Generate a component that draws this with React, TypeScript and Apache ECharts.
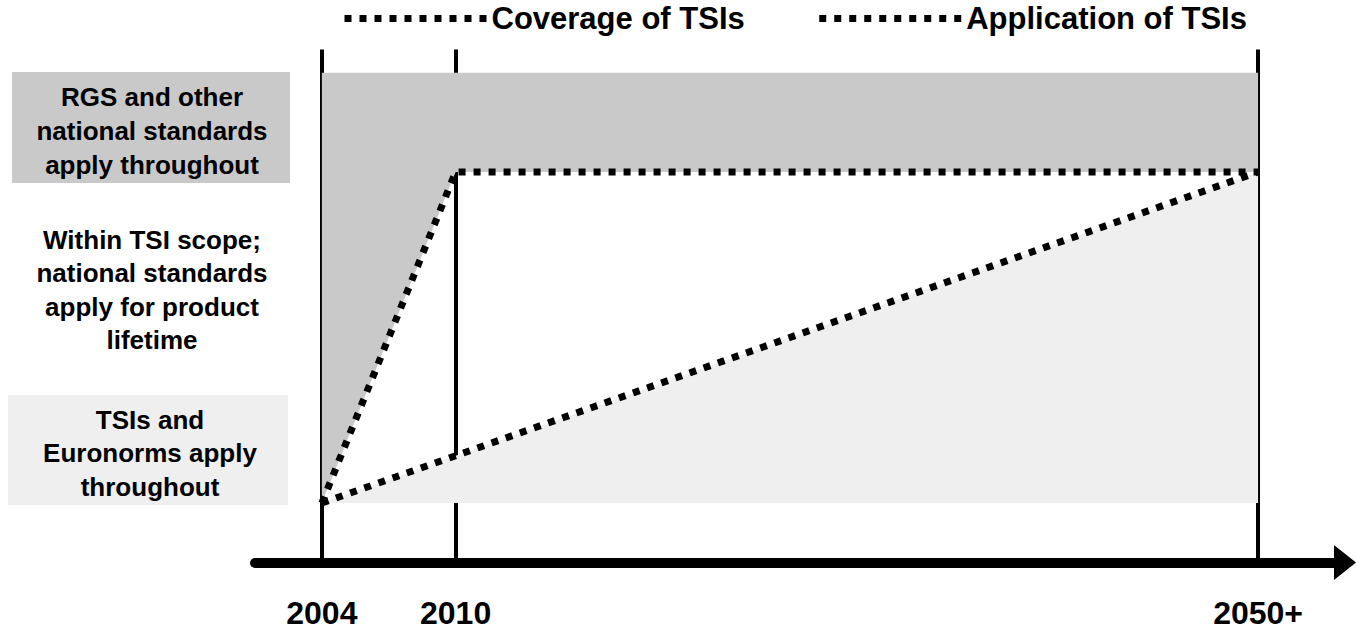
import React, { useEffect, useRef } from "react";
import * as echarts from "echarts";

// ---- data ----
const years = ["2004", "2010", "2050+"];
const yearPositions = [0, 1, 7];
const coverageLevels = [0, 1, 1];
const applicationPositions = [0, 7];
const applicationLevels = [0, 1];
const nationalBandTop = 1.3;
const legendNames = ["Coverage of TSIs", "Application of TSIs"];
const regimeLabels = [
  "RGS and other\nnational standards\napply throughout",
  "Within TSI scope;\nnational standards\napply for product\nlifetime",
  "TSIs and\nEuronorms apply\nthroughout",
];

const FONT = '"Liberation Sans", Arial, Helvetica, sans-serif';
const DARK = "#c9c9c9";
const LIGHT = "#efefef";

export default function App() {
  const ref = useRef<HTMLDivElement>(null);

  useEffect(() => {
    if (!ref.current) return;
    const chart = echarts.init(ref.current, undefined, { renderer: "svg" });

    const dotted = {
      color: "#000",
      width: 7,
      type: [7, 8] as number[],
      cap: "butt" as const,
    };

    const option: any = {
      animation: false,
      backgroundColor: "#fff",
      grid: { left: 255, right: 11, top: 49.5, bottom: 68.4, containLabel: false },
      legend: {
        data: legendNames,
        left: 336,
        top: -2,
        itemWidth: 142,
        itemHeight: 14,
        itemGap: 71,
        selectedMode: false,
        itemStyle: { opacity: 0 },
        lineStyle: { width: 7 },
        textStyle: {
          fontFamily: FONT,
          fontSize: 31,
          fontWeight: "bold",
          color: "#000",
          padding: [10, 0, 0, 0],
        },
      },
      xAxis: {
        type: "value",
        min: -0.5,
        max: 7.65,
        splitLine: { show: false },
        axisTick: { show: false },
        axisLine: {
          show: true,
          onZero: false,
          symbol: ["none", "triangle"],
          symbolSize: [35, 22],
          lineStyle: { color: "#000", width: 10 },
        },
        axisLabel: {
          customValues: yearPositions,
          formatter: (v: number) => {
            const i = yearPositions.indexOf(v);
            return i >= 0 ? years[i] : "";
          },
          fontFamily: FONT,
          fontSize: 32,
          fontWeight: "bold",
          color: "#000",
          margin: 34,
        },
      },
      yAxis: {
        type: "value",
        min: -0.18,
        max: 1.37,
        show: false,
      },
      series: [
        {
          name: legendNames[0],
          type: "line",
          symbol: "none",
          data: yearPositions.map((x, i) => [x, coverageLevels[i]]),
          lineStyle: dotted,
          itemStyle: { color: "#000" },
          areaStyle: { origin: nationalBandTop, color: DARK, opacity: 1 },
          z: 3,
        },
        {
          name: legendNames[1],
          type: "line",
          symbol: "none",
          data: applicationPositions.map((x, i) => [x, applicationLevels[i]]),
          lineStyle: dotted,
          itemStyle: { color: "#000" },
          areaStyle: { origin: 0, color: LIGHT, opacity: 1 },
          z: 3,
          markLine: {
            silent: true,
            symbol: "none",
            label: { show: false },
            lineStyle: { color: "#000", width: 4, type: "solid" },
            data: yearPositions.map((x) => ({ xAxis: x })),
            z: 2,
          },
        },
      ],
      graphic: [
        { type: "rect", shape: { x: 12, y: 72, width: 278, height: 111 }, style: { fill: DARK }, z: 0 },
        { type: "rect", shape: { x: 8, y: 395, width: 280, height: 110 }, style: { fill: LIGHT }, z: 0 },
        {
          type: "text", x: 152, y: 131, z: 5,
          style: { text: regimeLabels[0], fontFamily: FONT, fontSize: 26, fontWeight: "bold", fill: "#000", align: "center", verticalAlign: "middle", lineHeight: 34 },
        },
        {
          type: "text", x: 152, y: 290, z: 5,
          style: { text: regimeLabels[1], fontFamily: FONT, fontSize: 26, fontWeight: "bold", fill: "#000", align: "center", verticalAlign: "middle", lineHeight: 33.5 },
        },
        {
          type: "text", x: 150, y: 453, z: 5,
          style: { text: regimeLabels[2], fontFamily: FONT, fontSize: 26, fontWeight: "bold", fill: "#000", align: "center", verticalAlign: "middle", lineHeight: 33.5 },
        },
      ],
    };

    chart.setOption(option);
    return () => chart.dispose();
  }, []);

  return (
    <div
      ref={ref}
      style={{ position: "fixed", left: 0, top: 0, width: 1356, height: 631 }}
    />
  );
}
